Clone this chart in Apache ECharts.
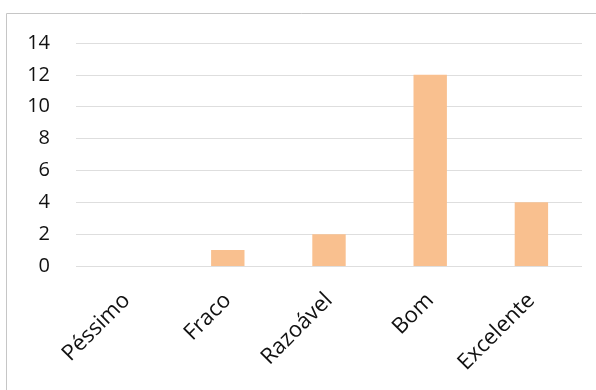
<!DOCTYPE html>
<html>
<head>
<meta charset="utf-8">
<script src="https://cdn.jsdelivr.net/npm/echarts@6/dist/echarts.min.js"></script>
<style>
  html, body { margin: 0; padding: 0; background: #fff; }
  #chart { width: 596px; height: 390px; }
</style>
</head>
<body>
<div id="chart"></div>
<script>
// Rating categories and number of answers for each
const categories = ['Péssimo', 'Fraco', 'Razoável', 'Bom', 'Excelente'];
const counts = [0, 1, 2, 12, 4];
const yTicks = { min: 0, max: 14, interval: 2 };

const FONT = '"Open Sans", sans-serif';

const chart = echarts.init(document.getElementById('chart'), null, { renderer: 'canvas' });
chart.setOption({
  animation: false,
  backgroundColor: '#ffffff',
  graphic: [{
    type: 'rect',
    silent: true,
    shape: { x: 6.5, y: 13.5, width: 800, height: 600 },
    style: { fill: 'none', stroke: '#c6c6c6', lineWidth: 1 }
  }],
  grid: { left: 76, right: 14, top: 43, bottom: 124, containLabel: false },
  xAxis: {
    type: 'category',
    data: categories,
    axisLine: { show: false },
    axisTick: { show: false },
    axisLabel: {
      interval: 0,
      rotate: 45,
      margin: 31,
      color: '#111111',
      fontFamily: FONT,
      fontSize: 22
    }
  },
  yAxis: {
    type: 'value',
    min: yTicks.min,
    max: yTicks.max,
    interval: yTicks.interval,
    axisLine: { show: false },
    axisTick: { show: false },
    axisLabel: {
      margin: 26,
      color: '#111111',
      fontFamily: FONT,
      fontSize: 20
    },
    splitLine: { lineStyle: { color: '#dedede', width: 1 } }
  },
  series: [{
    type: 'bar',
    data: counts,
    barWidth: '33%',
    itemStyle: { color: '#f9c08f' }
  }]
});
</script>
</body>
</html>
